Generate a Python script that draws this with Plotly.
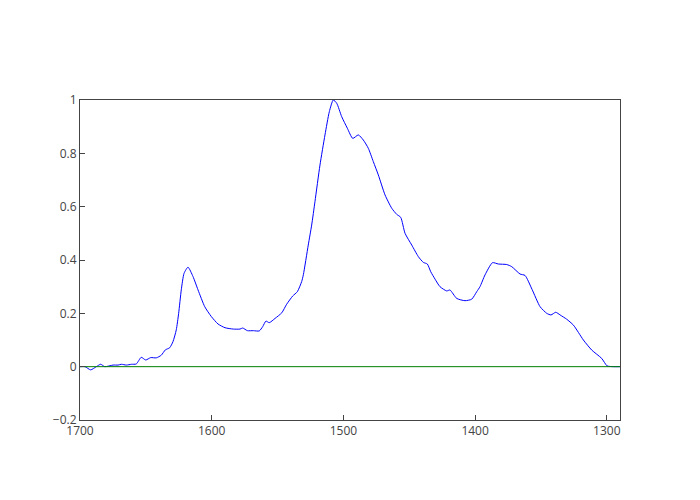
import plotly.graph_objects as go

wavenumber = [
    1700.0, 1696.2, 1691.9, 1687.6, 1684.3, 1681.2, 1674.9, 1671.1, 1668.6, 1664.8,
    1661.0, 1657.3, 1653.5, 1650.1, 1646.3, 1642.1, 1638.3, 1635.2, 1631.9, 1629.4,
    1626.9, 1625.1, 1623.1, 1621.0, 1618.0, 1614.2, 1610.4, 1605.3, 1600.3, 1595.2,
    1589.9, 1583.6, 1578.5, 1576.5, 1572.9, 1568.4, 1563.9, 1561.3, 1558.8, 1556.3,
    1551.9, 1546.8, 1543.1, 1538.5, 1535.0, 1531.7, 1530.4, 1526.7, 1524.1, 1521.6,
    1517.8, 1514.0, 1510.7, 1507.7, 1505.1, 1501.3, 1497.0, 1492.9, 1488.7, 1484.9,
    1481.1, 1477.3, 1473.5, 1468.4, 1463.3, 1459.5, 1456.5, 1453.2, 1448.1, 1443.1,
    1439.3, 1436.3, 1433.7, 1430.4, 1426.7, 1421.6, 1419.1, 1414.0, 1407.7, 1402.6,
    1398.8, 1396.3, 1392.5, 1386.8, 1382.4, 1376.0, 1372.2, 1365.9, 1362.1, 1356.8,
    1350.7, 1345.6, 1342.4, 1338.8, 1335.5, 1330.5, 1325.4, 1317.8, 1311.5, 1303.9,
    1299.8, 1295.1, 1290.0,
]
absorbance = [
    0.0, 0.0, -0.012, 0.0, 0.009, 0.0, 0.006, 0.006, 0.009, 0.006,
    0.009, 0.01, 0.035, 0.025, 0.034, 0.033, 0.043, 0.063, 0.071, 0.094,
    0.138, 0.2, 0.288, 0.35, 0.373, 0.338, 0.288, 0.225, 0.188, 0.16,
    0.146, 0.141, 0.141, 0.145, 0.135, 0.135, 0.134, 0.15, 0.171, 0.165,
    0.181, 0.202, 0.234, 0.265, 0.281, 0.319, 0.345, 0.456, 0.531, 0.619,
    0.756, 0.869, 0.956, 1.0, 0.988, 0.9375, 0.894, 0.856, 0.869, 0.85,
    0.819, 0.769, 0.719, 0.644, 0.594, 0.571, 0.56, 0.5, 0.456, 0.4125,
    0.391, 0.385, 0.356, 0.328, 0.3, 0.284, 0.2875, 0.256, 0.2475, 0.253,
    0.281, 0.3, 0.344, 0.39, 0.385, 0.383, 0.375, 0.3475, 0.342, 0.29,
    0.225, 0.2, 0.194, 0.204, 0.194, 0.178, 0.156, 0.1, 0.0625, 0.031,
    0.003, 0.0, 0.0,
]
baseline_x = [1700.0, 1290.0]
baseline_y = [0.0, 0.0]

x_ticks = [1700, 1600, 1500, 1400, 1300]
y_ticks = [-0.2, 0, 0.2, 0.4, 0.6, 0.8, 1]
y_tick_text = ["\u22120.2", "0", "0.2", "0.4", "0.6", "0.8", "1"]

fig = go.Figure()
fig.add_trace(go.Scatter(x=wavenumber, y=absorbance, mode="lines",
                         line=dict(color="#0000ff", width=1, shape="spline", smoothing=0.6)))
fig.add_trace(go.Scatter(x=baseline_x, y=baseline_y, mode="lines",
                         line=dict(color="#008000", width=1)))

axis_common = dict(showgrid=False, zeroline=False, showline=True, mirror=True,
                   linecolor="#444", linewidth=1, ticks="inside", ticklen=5,
                   tickcolor="#444")
fig.update_layout(
    width=692, height=492,
    margin=dict(l=72, r=80, t=92, b=80),
    paper_bgcolor="white", plot_bgcolor="white",
    font=dict(family="Open Sans", size=12, color="#444"),
    showlegend=False,
    xaxis=dict(range=[1700, 1290], tickvals=x_ticks, **axis_common),
    yaxis=dict(range=[-0.2, 1], tickvals=y_ticks, ticktext=y_tick_text, **axis_common),
)
fig.write_html("out.html")
